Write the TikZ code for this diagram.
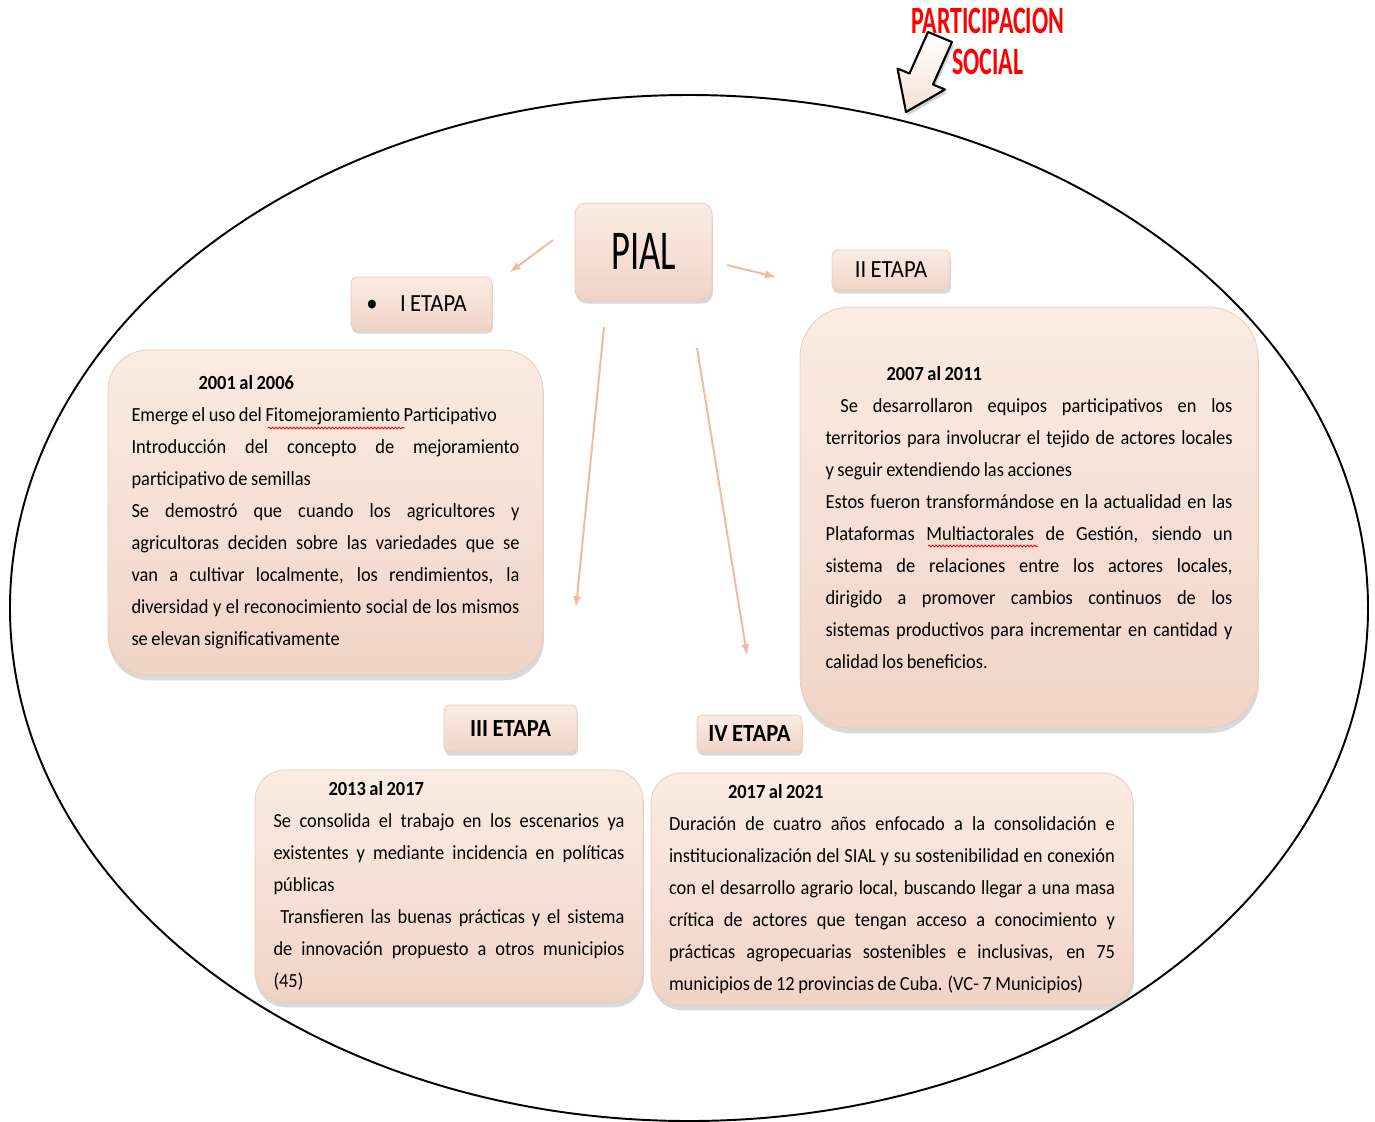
\documentclass[tikz,border=0pt]{standalone}
\usepackage{fontspec}
\usetikzlibrary{shadows}
\usetikzlibrary{arrows}
\usetikzlibrary{decorations.pathmorphing}
\newfontfamily\bodyfont[FakeStretch=0.92, WordSpace=0.85]{Carlito}
\newfontfamily\narrowfont[FakeStretch=0.65]{Carlito}
\newfontfamily\titlefont[FakeStretch=0.62]{Carlito}
\definecolor{peach}{RGB}{246,224,213}
\definecolor{peachlight}{RGB}{250,235,227}
\definecolor{peachdark}{RGB}{240,212,198}
\definecolor{peachedge}{RGB}{232,202,187}
\definecolor{salmon}{RGB}{244,184,160}
\newcommand{\jl}[1]{\makebox[\hsize][s]{#1}}
\tikzset{
  card/.style={draw=peachedge, top color=peachlight, bottom color=peachdark, middle color=peach,
    drop shadow={opacity=.3, shadow xshift=.5pt, shadow yshift=-3pt},
    align=justify, inner sep=0pt, font=\bodyfont\fontsize{11.4}{18.2}\selectfont},
  tag/.style={rounded corners=3pt, draw=peachedge, top color=peachlight, bottom color=peachdark, middle color=peach,
    drop shadow={opacity=.3, shadow xshift=.5pt, shadow yshift=-2pt},
    inner sep=0pt, font=\bodyfont\fontsize{14}{16}\selectfont},
  link/.style={draw=salmon, line width=1.1pt, -latex},
  spell/.style={draw=red, line width=.5pt, decorate, decoration={snake, amplitude=.5pt, segment length=2pt}},
}
\begin{document}
\begin{tikzpicture}
  \useasboundingbox (0,0) rectangle (27.5,-22.42);
  \draw[line width=1.1pt] (13.78,-12.16) ellipse[x radius=13.58cm, y radius=10.26cm];

  \node[text=red, align=center, font=\titlefont\bfseries\fontsize{22}{23.3}\selectfont] (social) at (19.76,-0.83) {PARTICIPACION\\SOCIAL};
  \draw[line width=1.2pt, line join=round, top color=white, bottom color=peach, drop shadow={opacity=.35, shadow xshift=1pt, shadow yshift=-2pt}]
    (18.56,-0.64) -- (19.04,-0.84) -- (18.66,-1.69) -- (18.90,-1.79) -- (18.12,-2.24) -- (17.95,-1.37) -- (18.19,-1.47) -- cycle;

  \node[tag, minimum width=2.74cm, minimum height=1.94cm, rounded corners=6pt, font=\narrowfont\fontsize{32}{34}\selectfont] (pial) at (12.87,-5.03) {PIAL};
  \node[tag, minimum width=2.82cm, minimum height=1.06cm] (etapa1) at (8.43,-6.07) {\textbullet\hspace{0.45cm}I ETAPA\hspace*{0.2cm}};
  \node[tag, minimum width=2.36cm, minimum height=0.80cm] (etapa2) at (17.82,-5.40) {II ETAPA};
  \node[tag, minimum width=2.66cm, minimum height=0.94cm] (etapa3) at (10.21,-14.57) {\bfseries III ETAPA};
  \node[tag, minimum width=2.10cm, minimum height=0.74cm] (etapa4) at (14.99,-14.67) {\bfseries IV ETAPA};

  \coordinate (s1) at (11.06,-4.80); \coordinate (e1) at (10.20,-5.44);
  \coordinate (s2) at (14.54,-5.30); \coordinate (e2) at (15.52,-5.54);
  \coordinate (s3) at (12.08,-6.54); \coordinate (e3) at (11.52,-12.14);
  \coordinate (s4) at (13.94,-6.96); \coordinate (e4) at (14.94,-13.10);
  \foreach \i in {1,...,4}
    \draw[link] (s\i) -- (e\i);

  \node[card, rounded corners=0.8cm, minimum width=8.70cm, minimum height=6.50cm, text width=7.76cm] (box1) at (6.51,-10.25) {%
    \hspace*{1.34cm}\textbf{2001 al 2006}\\
    Emerge el uso del Fitomejoramiento Participativo\\
    \jl{Introducción del concepto de mejoramiento}\\
    participativo de semillas\\
    \jl{Se demostró que cuando los agricultores y}\\
    \jl{agricultoras deciden sobre las variedades que se}\\
    \jl{van a cultivar localmente, los rendimientos, la}\\
    \jl{diversidad y el reconocimiento social de los mismos}\\
    se elevan significativamente};

  \node[card, rounded corners=1cm, minimum width=9.16cm, minimum height=8.42cm, text width=8.14cm] (box2) at (20.58,-10.35) {%
    \hspace*{1.22cm}\textbf{2007 al 2011}\\
    \jl{\ Se desarrollaron equipos participativos en los}\\
    \jl{territorios para involucrar el tejido de actores locales}\\
    y seguir extendiendo las acciones\\
    \jl{Estos fueron transformándose en la actualidad en las}\\
    \jl{Plataformas Multiactorales de Gestión, siendo un}\\
    \jl{sistema de relaciones entre los actores locales,}\\
    \jl{dirigido a promover cambios continuos de los}\\
    \jl{sistemas productivos para incrementar en cantidad y}\\
    calidad los beneficios.};

  \node[card, rounded corners=0.6cm, minimum width=7.76cm, minimum height=4.64cm, text width=7.02cm] (box3) at (8.98,-17.72) {%
    \hspace*{1.10cm}\textbf{2013 al 2017}\\
    \jl{Se consolida el trabajo en los escenarios ya}\\
    \jl{existentes y mediante incidencia en políticas}\\
    públicas\\
    \jl{\ Transfieren las buenas prácticas y el sistema}\\
    \jl{de innovación propuesto a otros municipios}\\
    (45)};

  \node[card, rounded corners=0.6cm, minimum width=9.64cm, minimum height=4.64cm, text width=8.92cm] (box4) at (17.84,-17.78) {%
    \hspace*{1.18cm}\textbf{2017 al 2021}\\
    \jl{Duración de cuatro años enfocado a la consolidación e}\\
    \jl{institucionalización del SIAL y su sostenibilidad en conexión}\\
    \jl{con el desarrollo agrario local, buscando llegar a una masa}\\
    \jl{crítica de actores que tengan acceso a conocimiento y}\\
    \jl{prácticas agropecuarias sostenibles e inclusivas, en 75}\\
    municipios de 12 provincias de Cuba. (VC- 7 Municipios)};

  \draw[spell] (5.36,-8.56) -- (8.10,-8.56);
  \draw[spell] (18.56,-10.92) -- (20.76,-10.92);
\end{tikzpicture}
\end{document}
